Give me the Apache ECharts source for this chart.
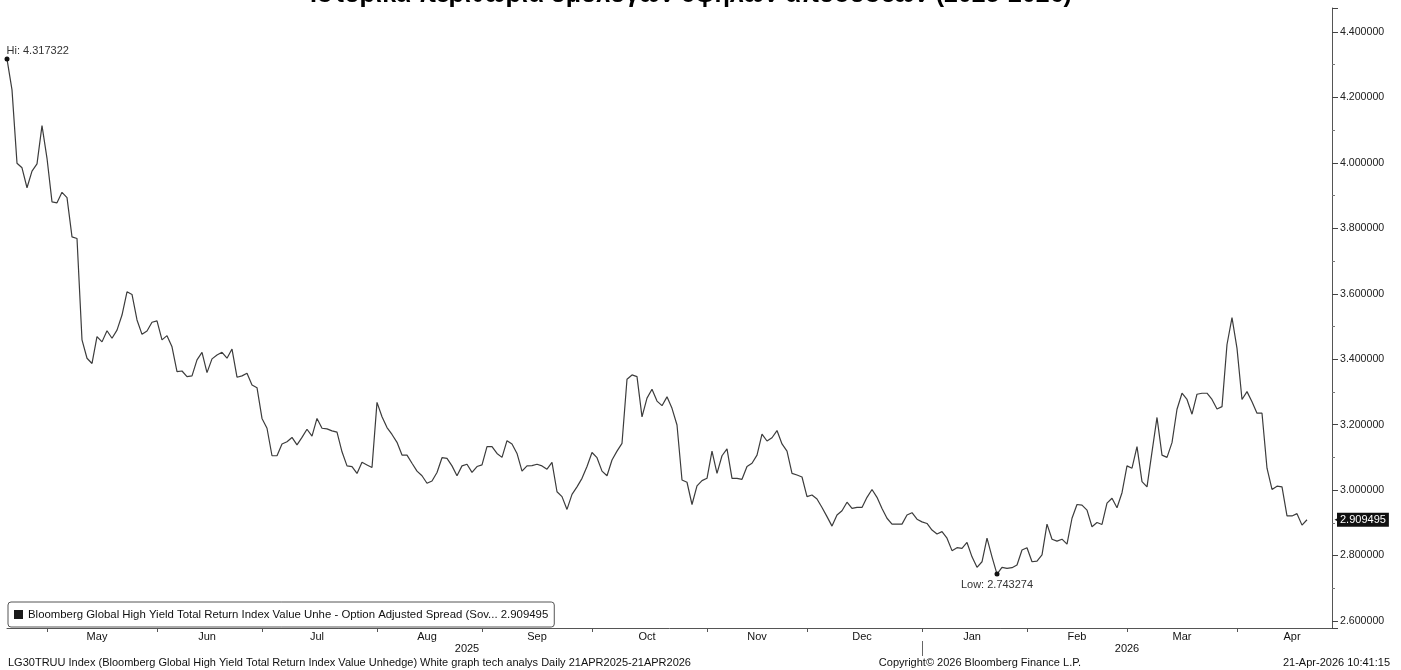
<!DOCTYPE html>
<html><head><meta charset="utf-8">
<script src="https://cdn.jsdelivr.net/npm/echarts@6/dist/echarts.min.js"></script>
<style>html,body{margin:0;padding:0;background:#fff}#c{width:1401px;height:670px}</style>
</head><body><div id="c"></div>
<script>
const FONT = "'Liberation Sans', Arial, sans-serif";
const titleText = 'Ιστορικά περιθώρια ομολόγων υψηλών αποδόσεων (2025-2026)';
const seriesName = 'Bloomberg Global High Yield Total Return Index Value Unhe - Option Adjusted Spread (Sov...';
const footerLeft = 'LG30TRUU Index (Bloomberg Global High Yield Total Return Index Value Unhedge) White graph tech analys Daily 21APR2025-21APR2026';
const footerCenter = 'Copyright\u00A9 2026 Bloomberg Finance L.P.';
const footerRight = '21-Apr-2026 10:41:15';

// daily (business-day) values, 21 Apr 2025 .. 21 Apr 2026
const values = [
4.317322,4.223,3.999,3.985,3.924,3.975,3.997,4.114,4.014,3.881,
3.878,3.910,3.894,3.774,3.769,3.459,3.403,3.387,3.469,3.453,
3.487,3.464,3.489,3.535,3.606,3.598,3.520,3.476,3.486,3.513,
3.517,3.459,3.472,3.438,3.362,3.364,3.347,3.349,3.398,3.421,
3.359,3.401,3.413,3.421,3.403,3.431,3.345,3.349,3.357,3.321,
3.313,3.219,3.189,3.105,3.105,3.141,3.148,3.161,3.138,3.161,
3.186,3.165,3.219,3.189,3.187,3.181,3.177,3.117,3.074,3.072,
3.051,3.085,3.077,3.069,3.268,3.224,3.191,3.170,3.146,3.107,
3.107,3.082,3.058,3.044,3.021,3.028,3.054,3.099,3.097,3.074,
3.044,3.074,3.079,3.054,3.072,3.077,3.133,3.133,3.112,3.100,
3.151,3.141,3.112,3.058,3.074,3.075,3.079,3.074,3.064,3.085,
2.995,2.980,2.941,2.987,3.010,3.036,3.072,3.115,3.099,3.058,
3.044,3.092,3.119,3.143,3.339,3.352,3.347,3.224,3.281,3.308,
3.272,3.258,3.285,3.250,3.199,3.031,3.024,2.956,3.013,3.029,
3.036,3.119,3.051,3.105,3.126,3.036,3.036,3.033,3.072,3.082,
3.107,3.171,3.150,3.160,3.182,3.141,3.119,3.051,3.046,3.040,
2.980,2.985,2.973,2.947,2.919,2.890,2.924,2.937,2.963,2.944,
2.947,2.947,2.978,3.002,2.978,2.944,2.914,2.896,2.896,2.896,
2.924,2.931,2.911,2.903,2.898,2.878,2.866,2.873,2.853,2.815,
2.824,2.822,2.840,2.796,2.764,2.781,2.853,2.796,2.743274,2.764,
2.761,2.763,2.771,2.817,2.824,2.781,2.783,2.802,2.896,2.850,
2.844,2.850,2.835,2.914,2.956,2.954,2.939,2.888,2.901,2.895,
2.960,2.975,2.946,2.992,3.074,3.067,3.133,3.026,3.010,3.117,
3.222,3.107,3.100,3.145,3.247,3.296,3.277,3.232,3.293,3.296,
3.296,3.277,3.248,3.255,3.445,3.527,3.433,3.277,3.301,3.270,
3.235,3.235,3.067,3.002,3.012,3.010,2.921,2.921,2.928,2.893,
2.909495
];

const firstDate = '2025-04-21';
const lastAxisDate = '2026-04-28';
const holidays = ['2026-01-01'];

const monthLabels = ['May','Jun','Jul','Aug','Sep','Oct','Nov','Dec','Jan','Feb','Mar','Apr'];
const monthLabelDates = ['2025-05-15','2025-06-16','2025-07-16','2025-08-15','2025-09-16','2025-10-16','2025-11-17','2025-12-16','2026-01-16','2026-02-16','2026-03-17','2026-04-16'];
const monthStartDates = ['2025-05-01','2025-06-02','2025-07-01','2025-08-01','2025-09-01','2025-10-01','2025-11-03','2025-12-01','2026-01-02','2026-02-02','2026-03-02','2026-04-01'];
const yearLabels = ['2025','2026'];
const yearLabelDates = ['2025-08-27','2026-03-02'];
const yearDividerDates = ['2026-01-02'];

function fmt(d){ return d.toISOString().slice(0,10); }
const categories = [];
for (let d = new Date(firstDate + 'T00:00:00Z'); fmt(d) <= lastAxisDate; d.setUTCDate(d.getUTCDate() + 1)) {
  const wd = d.getUTCDay(), s = fmt(d);
  if (wd === 0 || wd === 6 || holidays.indexOf(s) >= 0) continue;
  categories.push(s);
}
const lastVal = values[values.length - 1];

const chart = echarts.init(document.getElementById('c'), null, {renderer: 'canvas'});
chart.setOption({
  animation: false,
  backgroundColor: '#ffffff',
  textStyle: {fontFamily: FONT},
  grid: {left: 7, right: 69, top: 8, bottom: 42, containLabel: false},
  legend: {
    show: true, left: 8, bottom: 43, orient: 'horizontal', selectedMode: false,
    data: [seriesName], icon: 'rect', itemWidth: 9, itemHeight: 9, itemGap: 5,
    padding: [7, 6, 7, 6], backgroundColor: '#ffffff', borderColor: '#555', borderWidth: 1, borderRadius: 3,
    itemStyle: {color: '#1a1a1a'},
    textStyle: {fontSize: 11.4, color: '#111', fontFamily: FONT, padding: [0,0,0,0]},
    formatter: function(n){ return n + ' ' + lastVal.toFixed(6); }
  },
  graphic: [
    {type: 'text', x: 691, y: 8, silent: true, style: {text: titleText, align: 'center', verticalAlign: 'bottom', font: "bold 25px 'Liberation Sans', Arial, sans-serif", fill: '#000'}},
    {type: 'text', x: 8, y: 663, silent: true, style: {text: footerLeft, align: 'left', verticalAlign: 'middle', font: "11px 'Liberation Sans', Arial, sans-serif", fill: '#111'}},
    {type: 'text', x: 980, y: 663, silent: true, style: {text: footerCenter, align: 'center', verticalAlign: 'middle', font: "11px 'Liberation Sans', Arial, sans-serif", fill: '#111'}},
    {type: 'text', x: 1390, y: 663, silent: true, style: {text: footerRight, align: 'right', verticalAlign: 'middle', font: "11px 'Liberation Sans', Arial, sans-serif", fill: '#111'}}
  ],
  xAxis: [
    {
      type: 'category', data: categories, boundaryGap: false, position: 'bottom',
      axisLine: {show: true, lineStyle: {color: '#555', width: 1}},
      axisTick: {show: true, length: 4, lineStyle: {color: '#555'}, interval: function(i, v){ return monthStartDates.indexOf(v) >= 0; }},
      axisLabel: {show: true, fontSize: 11, color: '#111', margin: 3, fontFamily: FONT,
        interval: function(i, v){ return monthLabelDates.indexOf(v) >= 0; },
        formatter: function(v){ const k = monthLabelDates.indexOf(v); return k >= 0 ? monthLabels[k] : ''; }},
      splitLine: {show: false}
    },
    {
      type: 'category', data: categories, boundaryGap: false, position: 'bottom', offset: 13,
      axisLine: {show: false},
      axisTick: {show: true, length: 15, lineStyle: {color: '#666'}, interval: function(i, v){ return yearDividerDates.indexOf(v) >= 0; }},
      axisLabel: {show: true, fontSize: 11, color: '#111', margin: 2, fontFamily: FONT,
        interval: function(i, v){ return yearLabelDates.indexOf(v) >= 0; },
        formatter: function(v){ const k = yearLabelDates.indexOf(v); return k >= 0 ? yearLabels[k] : ''; }},
      splitLine: {show: false}
    }
  ],
  yAxis: {
    type: 'value', position: 'right', min: 2.5786, max: 4.4733, splitNumber: 9,
    axisLine: {show: true, lineStyle: {color: '#555', width: 1}},
    axisTick: {show: true, length: 6, lineStyle: {color: '#444'}},
    minorTick: {show: true, splitNumber: 2, length: 3, lineStyle: {color: '#777'}},
    splitLine: {show: false}, minorSplitLine: {show: false},
    axisLabel: {showMinLabel: false, showMaxLabel: false, fontSize: 10.6, color: '#222', margin: 8, fontFamily: FONT,
      formatter: function(v){ return v.toFixed(6); }}
  },
  series: [{
    name: seriesName, type: 'line', data: values, xAxisIndex: 0,
    showSymbol: false, symbol: 'none', smooth: false,
    lineStyle: {color: '#3c3c3c', width: 1.2},
    itemStyle: {color: '#1a1a1a'},
    emphasis: {disabled: true},
    markPoint: {
      silent: true, symbol: 'circle', symbolSize: 5, itemStyle: {color: '#111'},
      data: [
        {type: 'max', label: {show: true, position: [2, -11], formatter: function(p){ return 'Hi: ' + p.value.toFixed(6); }, color: '#333', fontSize: 11, fontFamily: FONT}},
        {type: 'min', label: {show: true, position: 'bottom', distance: 3, formatter: function(p){ return 'Low: ' + p.value.toFixed(6); }, color: '#333', fontSize: 11, fontFamily: FONT}}
      ]
    },
    markLine: {
      silent: true, precision: 6, symbol: ['none', 'triangle'], symbolSize: 7, symbolRotate: 90,
      symbolOffset: [[0, 0], [0, 6]], animation: false,
      lineStyle: {color: '#111', width: 0, opacity: 1},
      emphasis: {disabled: true},
      label: {show: true, position: 'end', distance: 5, formatter: function(){ return lastVal.toFixed(6); },
        color: '#fff', backgroundColor: '#111', padding: [2, 3, 1, 3], fontSize: 11, fontFamily: FONT},
      data: [{yAxis: lastVal}]
    }
  }]
});
</script>
</body></html>
